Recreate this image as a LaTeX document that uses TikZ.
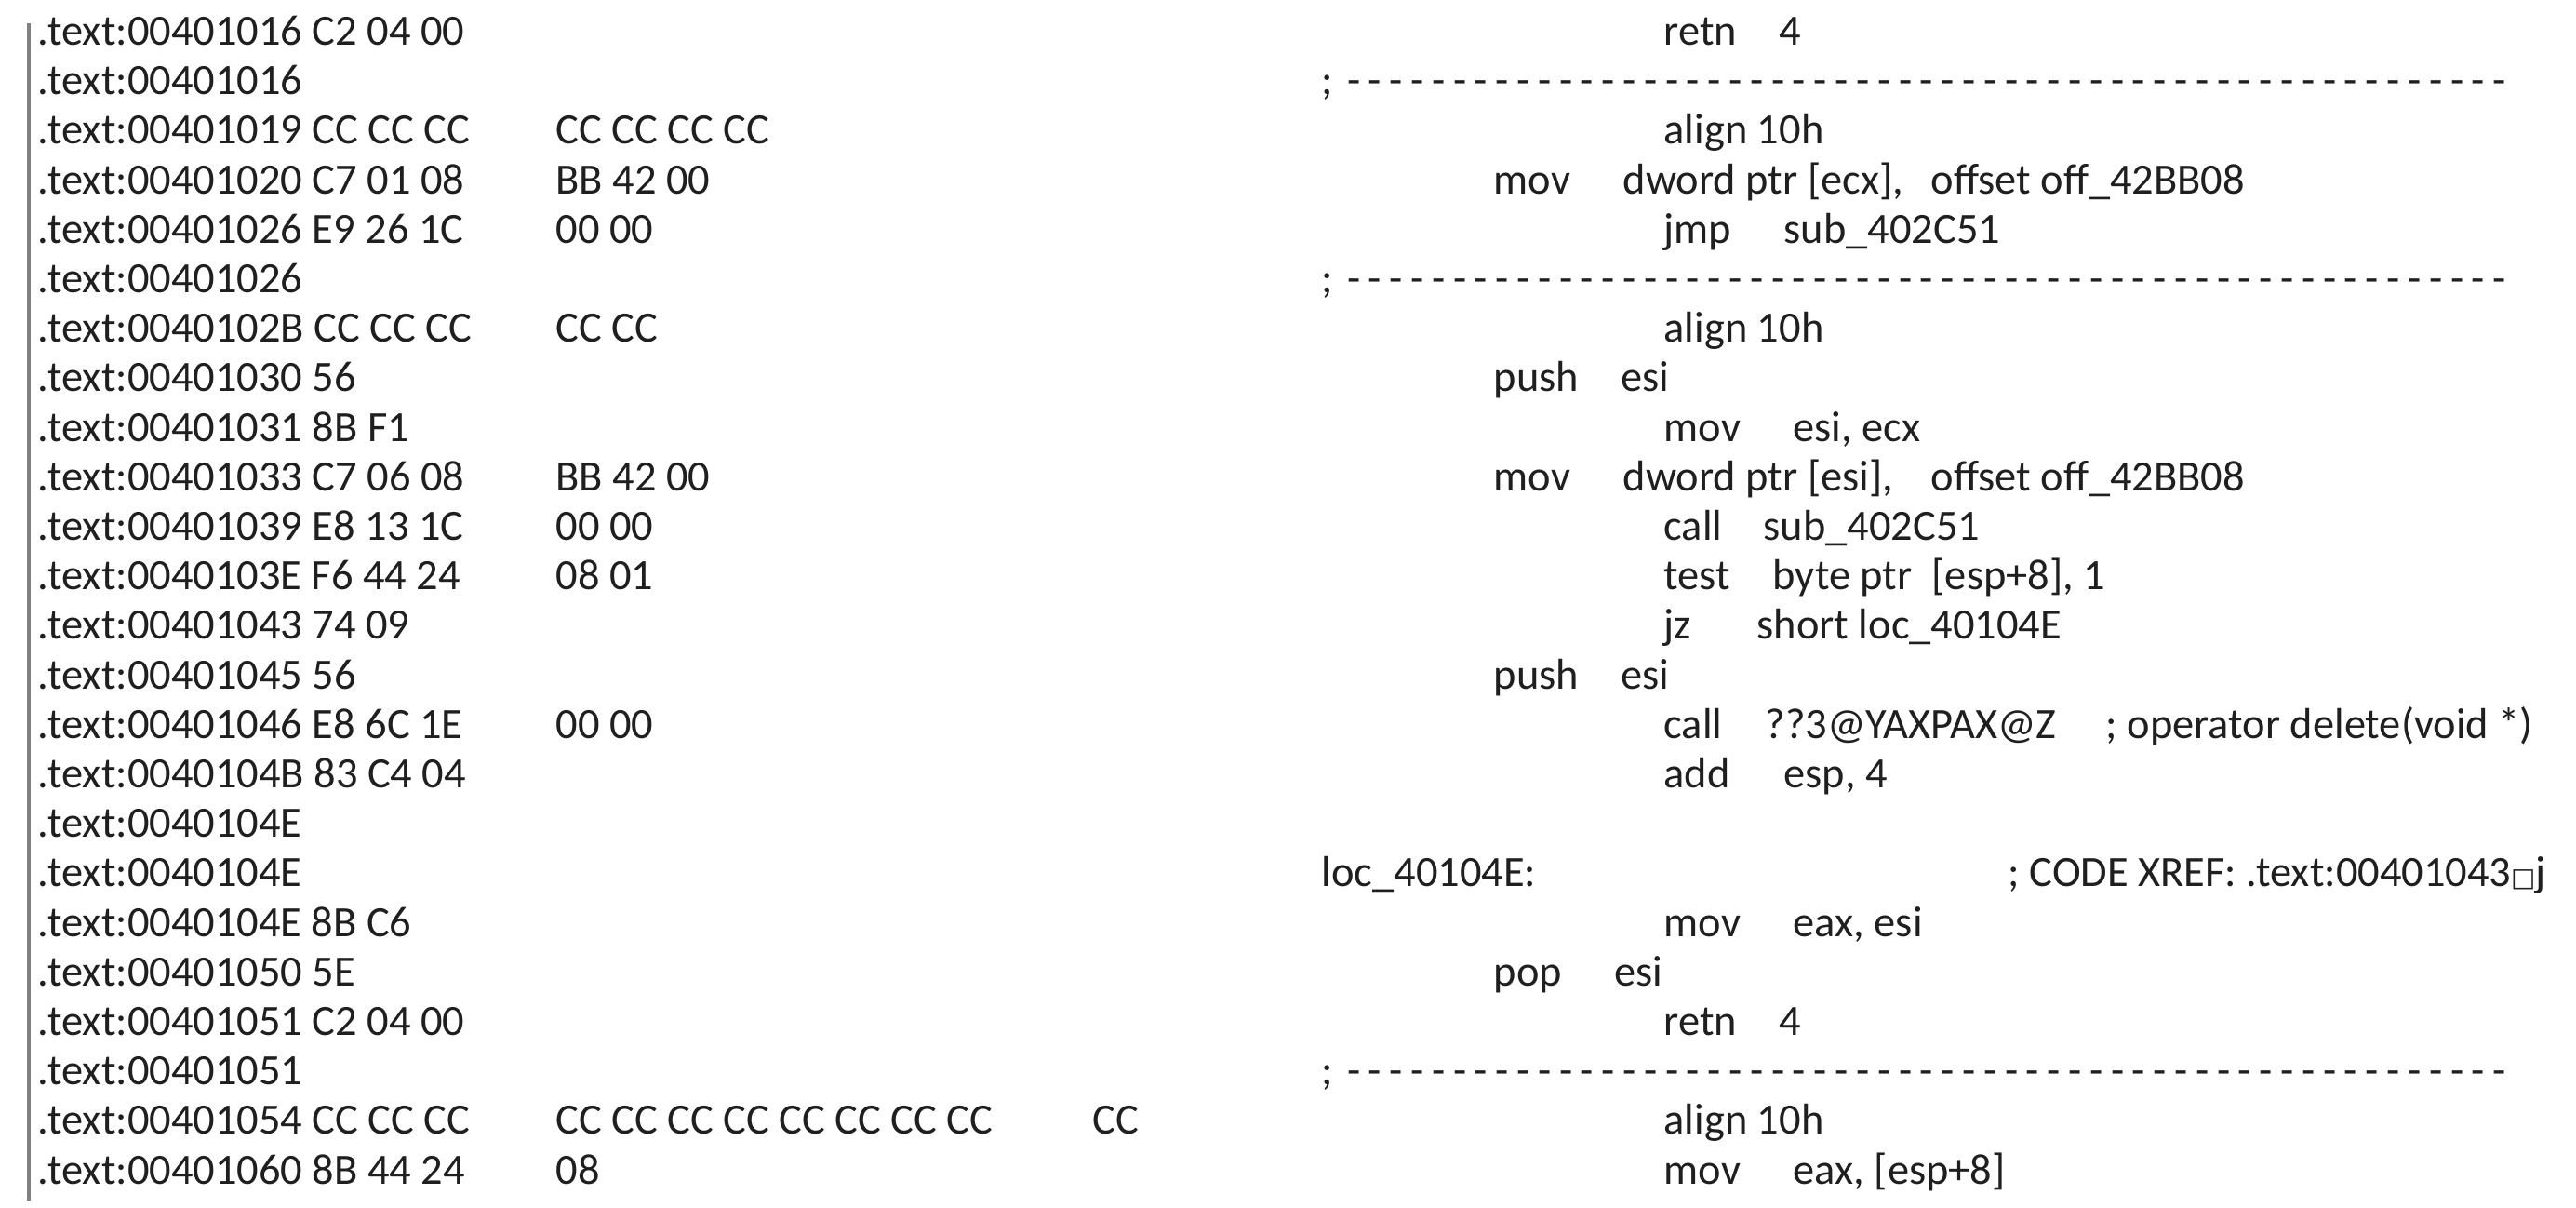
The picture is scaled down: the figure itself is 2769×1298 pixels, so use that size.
\documentclass[tikz,border=0pt]{standalone}
\usepackage{fontspec}
\setmainfont{Carlito}
\newcounter{tn}
\newcommand{\T}[3]{\stepcounter{tn}\node[txt,name=t\arabic{tn}] at (#2,{-(35+53.2*#1)}) {#3};}
\newcommand{\Dash}[1]{\stepcounter{tn}\node[txt,name=t\arabic{tn}] at (1420,{-(35+53.2*#1)}) {;\ \hbox to 1255\dimexpr0.01cm\relax{\xleaders\hbox{\kern1.2pt-\kern1.2pt}\hfill}};}
\begin{document}
\begin{tikzpicture}[x=0.01cm,y=0.01cm,
  txt/.style={anchor=west,inner sep=0pt,font=\fontsize{13.2}{15}\selectfont,text=black!88,text height=2.2ex,text depth=0.6ex}]
\useasboundingbox[fill=white] (0,0) rectangle (2769,-1298);
\draw[gray,line width=1.2pt] (31,-25) -- (31,-1290);
% left column
\T{0}{40}{.text:00401016 C2 04 00}
\T{1}{40}{.text:00401016}
\T{2}{40}{.text:00401019 CC CC CC}\T{2}{597}{CC CC CC CC}
\T{3}{40}{.text:00401020 C7 01 08}\T{3}{597}{BB 42 00}
\T{4}{40}{.text:00401026 E9 26 1C}\T{4}{597}{00 00}
\T{5}{40}{.text:00401026}
\T{6}{40}{.text:0040102B CC CC CC}\T{6}{597}{CC CC}
\T{7}{40}{.text:00401030 56}
\T{8}{40}{.text:00401031 8B F1}
\T{9}{40}{.text:00401033 C7 06 08}\T{9}{597}{BB 42 00}
\T{10}{40}{.text:00401039 E8 13 1C}\T{10}{597}{00 00}
\T{11}{40}{.text:0040103E F6 44 24}\T{11}{597}{08 01}
\T{12}{40}{.text:00401043 74 09}
\T{13}{40}{.text:00401045 56}
\T{14}{40}{.text:00401046 E8 6C 1E}\T{14}{597}{00 00}
\T{15}{40}{.text:0040104B 83 C4 04}
\T{16}{40}{.text:0040104E}
\T{17}{40}{.text:0040104E}
\T{18}{40}{.text:0040104E 8B C6}
\T{19}{40}{.text:00401050 5E}
\T{20}{40}{.text:00401051 C2 04 00}
\T{21}{40}{.text:00401051}
\T{22}{40}{.text:00401054 CC CC CC}\T{22}{597}{CC CC CC CC CC CC CC CC}\T{22}{1174}{CC}
\T{23}{40}{.text:00401060 8B 44 24}\T{23}{597}{08}
% right column
\T{0}{1788}{retn}\T{0}{1912}{4}
\Dash{1}
\T{2}{1788}{align 10h}
\T{3}{1605}{mov}\T{3}{1744}{dword ptr [ecx],}\T{3}{2075}{offset off\_42BB08}
\T{4}{1788}{jmp}\T{4}{1917}{sub\_402C51}
\Dash{5}
\T{6}{1788}{align 10h}
\T{7}{1605}{push}\T{7}{1742}{esi}
\T{8}{1788}{mov}\T{8}{1927}{esi, ecx}
\T{9}{1605}{mov}\T{9}{1744}{dword ptr [esi],}\T{9}{2075}{offset off\_42BB08}
\T{10}{1788}{call}\T{10}{1895}{sub\_402C51}
\T{11}{1788}{test}\T{11}{1905}{byte ptr\ \ [esp+8], 1}
\T{12}{1788}{jz}\T{12}{1888}{short loc\_40104E}
\T{13}{1605}{push}\T{13}{1742}{esi}
\T{14}{1788}{call}\T{14}{1897}{??3@YAXPAX@Z}\T{14}{2263}{; operator delete(void *)}
\T{15}{1788}{add}\T{15}{1917}{esp, 4}
\T{17}{1420}{loc\_40104E:}\T{17}{2158}{; CODE XREF: .text:00401043\fontspec{DejaVu Sans}\scalebox{0.6}{□}\fontspec{Carlito}j}
\T{18}{1788}{mov}\T{18}{1927}{eax, esi}
\T{19}{1605}{pop}\T{19}{1735}{esi}
\T{20}{1788}{retn}\T{20}{1912}{4}
\Dash{21}
\T{22}{1788}{align 10h}
\T{23}{1788}{mov}\T{23}{1927}{eax, [esp+8]}
\end{tikzpicture}
\end{document}
